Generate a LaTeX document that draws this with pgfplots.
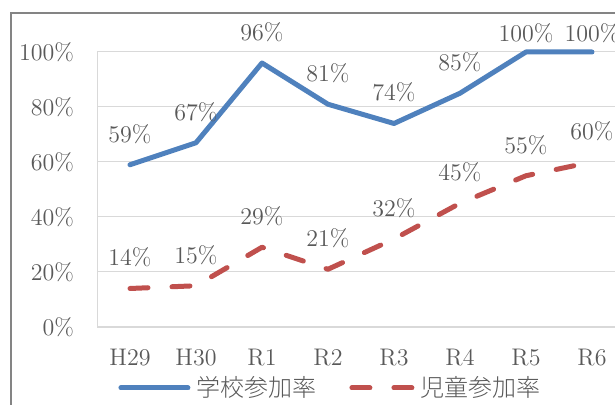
\documentclass[border=0pt]{standalone}
\usepackage{fontspec}
\newfontfamily\jp[UprightFont={* Light}]{Noto Sans CJK JP}
\usepackage{pgfplots}
\usepackage{pgfplotstable}
\pgfplotsset{compat=1.18}
\definecolor{txtgray}{HTML}{595959}
\definecolor{gridgray}{HTML}{D9D9D9}
\definecolor{framegray}{HTML}{848484}
\definecolor{exblue}{HTML}{4F81BD}
\definecolor{exred}{HTML}{C0504D}
\pgfplotstableread{
x y
0 59
1 67
2 96
3 81
4 74
5 85
6 100
7 100
}\school
\pgfplotstableread{
x y
0 14
1 15
2 29
3 21
4 32
5 45
6 55
7 60
}\child
\begin{document}
\begin{tikzpicture}[x=1pt,y=1pt]
\useasboundingbox (0,0) rectangle (307.5,202.5);
\clip (0,0) rectangle (307.5,202.5);
\draw[framegray, line width=1pt] (5.5,-5) -- (5.5,196) -- (320,196);
\begin{axis}[
  at={(48.5pt,39pt)}, anchor=south west,
  scale only axis, width=264pt, height=137.5pt,
  xmin=-0.5, xmax=7.5, ymin=0, ymax=100,
  xtick={0,...,7}, xticklabels={H29,H30,R1,R2,R3,R4,R5,R6},
  ytick={0,20,...,100}, yticklabel={\pgfmathprintnumber{\tick}\%},
  ymajorgrids, grid style={gridgray, line width=0.5pt},
  major tick length=0pt,
  axis x line*=bottom, axis y line*=left,
  x axis line style={gridgray, line width=0.9pt, -},
  y axis line style={gridgray, line width=0.5pt, -},
  tick label style={font=\fontsize{12}{14}\selectfont, text=txtgray},
  yticklabel style={xshift=-8pt},
  xticklabel style={yshift=-7.5pt},
  clip=false,
  legend columns=2,
  legend style={at={(0.0398,-0.2218)}, anchor=west, draw=none, fill=none, inner sep=0pt,
    font=\jp\fontsize{12}{14}\selectfont, text=txtgray,
    nodes={inner sep=0pt},
    /tikz/every odd column/.append style={column sep=3pt},
    /tikz/every even column/.append style={column sep=16.5pt}},
  lab/.style={draw=none, mark=none, forget plot,
    nodes near coords={\pgfmathprintnumber{\pgfplotspointmeta}\%},
    nodes near coords style={anchor=center, yshift=#1,
      font=\fontsize{12}{14}\selectfont, text=txtgray}},
]
\addplot[exblue, line width=2.5pt, line cap=round, line join=round, mark=none,
  legend image code/.code={\draw[exblue, line width=2.5pt, line cap=round] (1.25pt,0pt) -- (34.75pt,0pt);}]
  table[x=x, y=y] {\school};
\addlegendentry{学校参加率}
\addplot[exred, line width=2.5pt, line cap=round, line join=round, mark=none,
  dash pattern=on 9pt off 12pt,
  legend image code/.code={\draw[exred, line width=2.5pt, line cap=round, dash pattern=on 9pt off 12pt] (1.25pt,0pt) -- (31.25pt,0pt);}]
  table[x=x, y=y] {\child};
\addlegendentry{児童参加率}
% data labels
\addplot[lab=15.5pt, restrict x to domain=0:5.5] table[x=x, y=y] {\school};
\addplot[lab=9.5pt, restrict x to domain=5.5:7] table[x=x, y=y] {\school};
\addplot[lab=15.5pt] table[x=x, y=y] {\child};
\end{axis}
\end{tikzpicture}
\end{document}
